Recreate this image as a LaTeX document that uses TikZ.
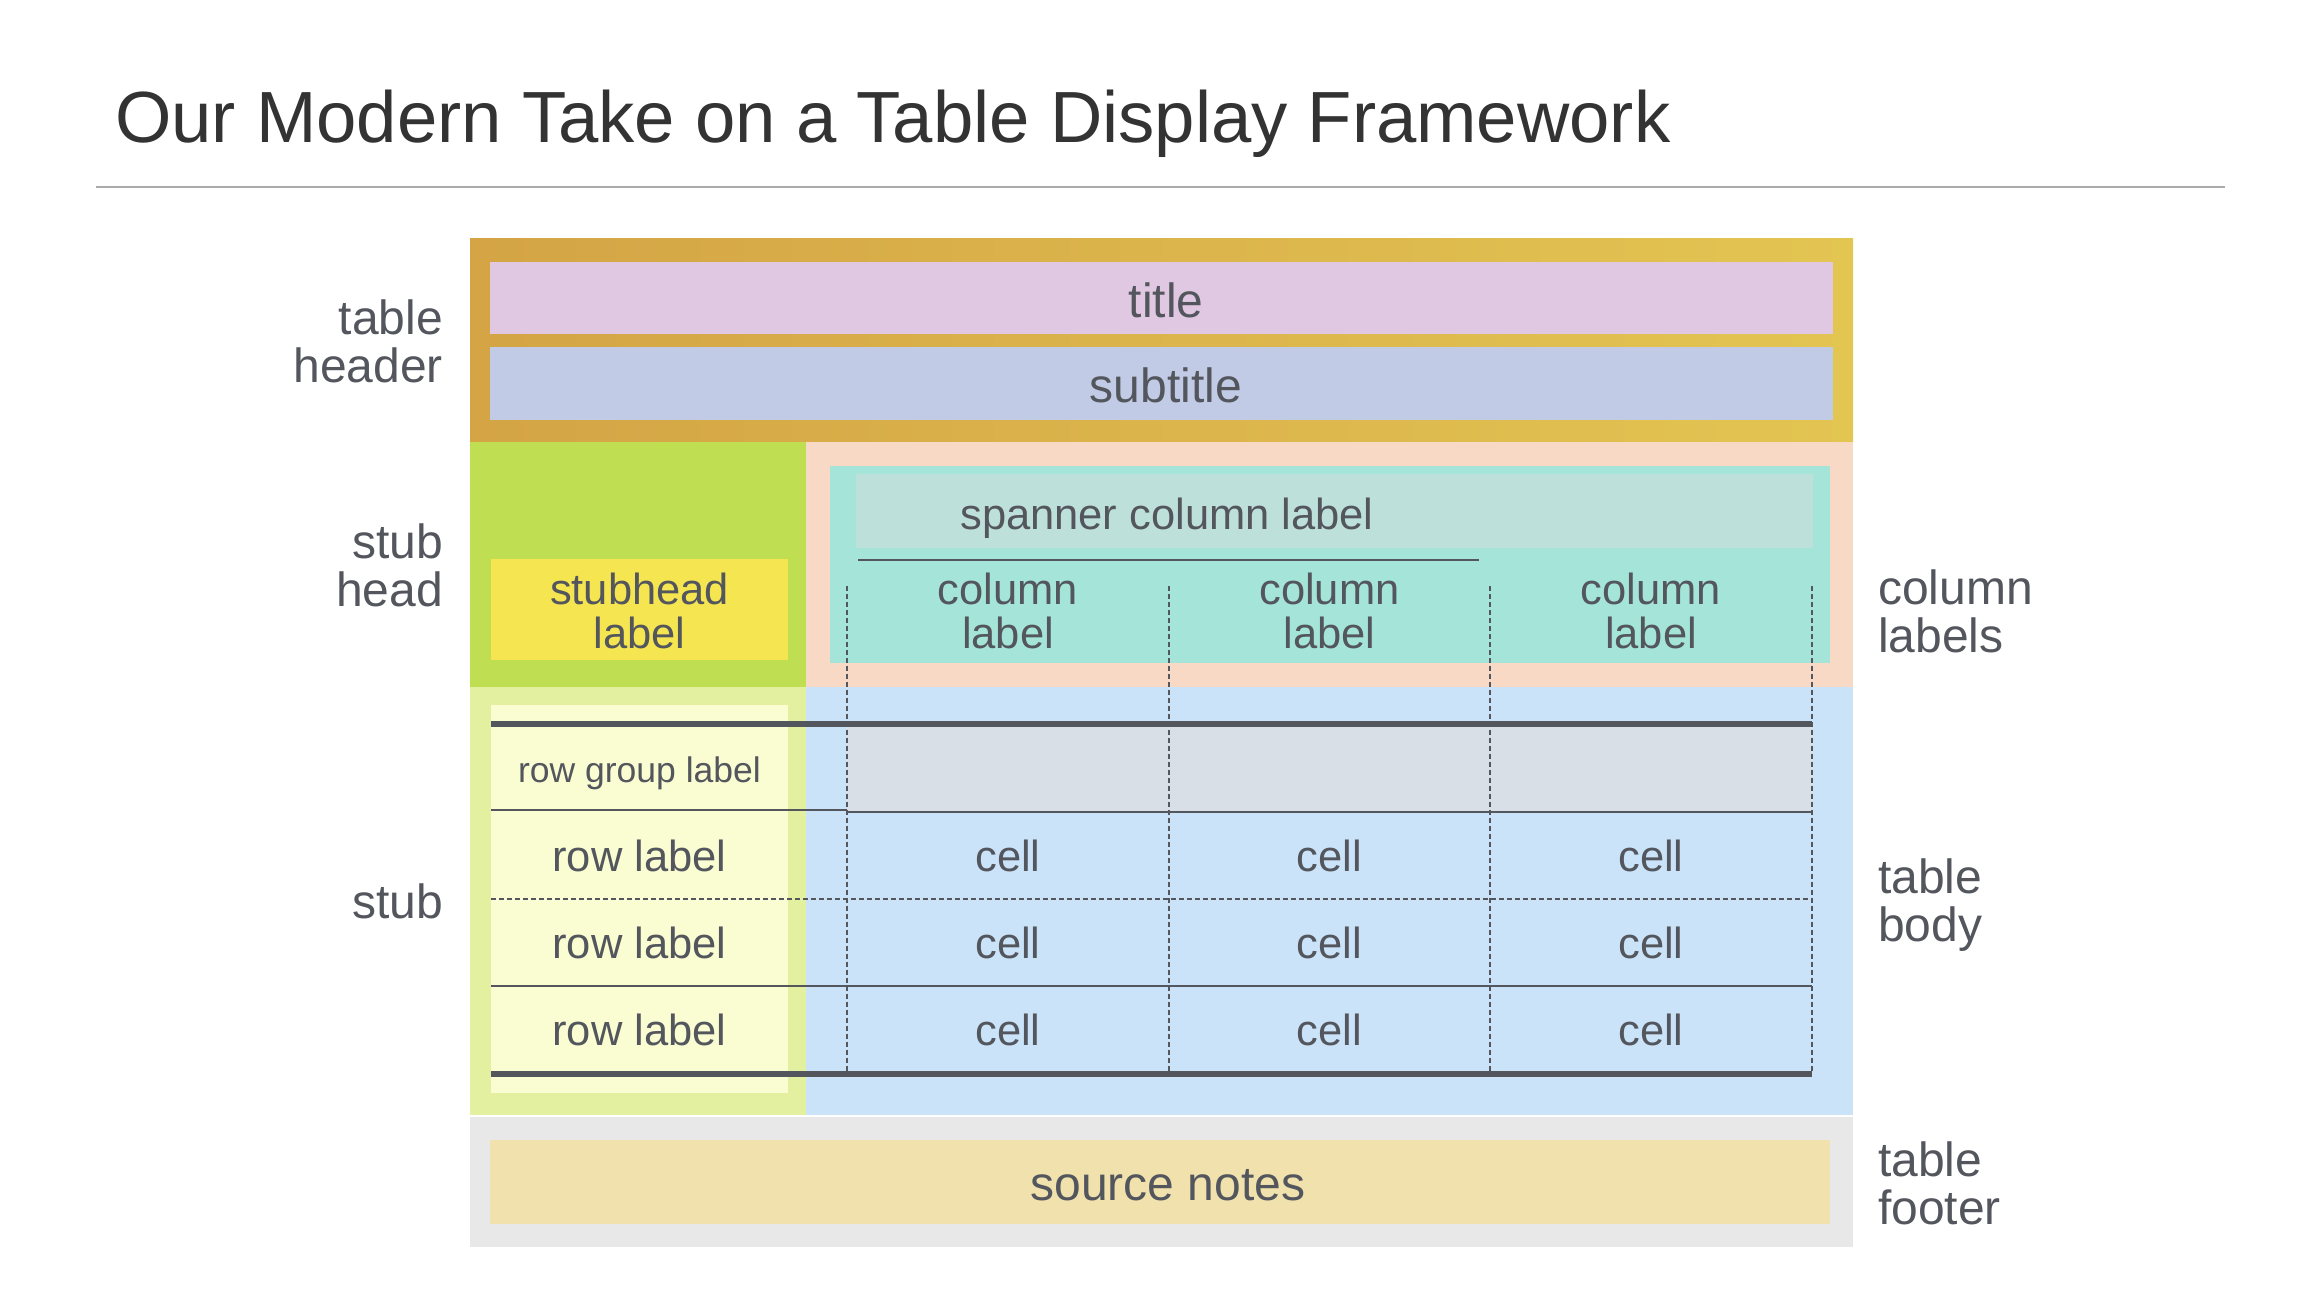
\documentclass[tikz,border=0pt]{standalone}
\usepackage{fontspec}
\setmainfont{Liberation Sans}
\definecolor{goldL}{HTML}{D4A445}
\definecolor{goldR}{HTML}{E3C552}
\definecolor{titlebg}{HTML}{E0C8E2}
\definecolor{subbg}{HTML}{C1CBE6}
\definecolor{stubheadbg}{HTML}{BFDE52}
\definecolor{stubheadlbl}{HTML}{F5E651}
\definecolor{peach}{HTML}{F8D9C6}
\definecolor{tealbg}{HTML}{A4E4D9}
\definecolor{spanbg}{HTML}{BEE0DB}
\definecolor{stubbg}{HTML}{E2F0A0}
\definecolor{stubinner}{HTML}{FAFDD1}
\definecolor{bodybg}{HTML}{CAE3F9}
\definecolor{rowgroupbg}{HTML}{D8DFE6}
\definecolor{footbg}{HTML}{E8E8E8}
\definecolor{srcbg}{HTML}{F0E1AD}
\definecolor{txt}{HTML}{53565D}
\definecolor{titletxt}{HTML}{333333}
\definecolor{rulec}{HTML}{AAAAAA}
\definecolor{linec}{HTML}{54565E}
\newcommand\mystack[2]{\begin{tabular}[t]{@{}#1@{}}#2\end{tabular}}
\begin{document}
\begin{tikzpicture}[x=1pt,y=-1pt,
  lbl/.style={inner sep=0, text=txt},
  big/.style={lbl, font=\fontsize{48}{47}\selectfont},
  mid/.style={lbl, font=\fontsize{43.5}{42}\selectfont},
  small/.style={lbl, font=\fontsize{35.5}{36}\selectfont},
  thick rule/.style={draw=linec, line width=6pt},
  thin rule/.style={draw=linec, line width=2pt},
  dash rule/.style={draw=linec, line width=1.7pt, dash pattern=on 5pt off 3pt},
]
\useasboundingbox (0,0) rectangle (2320,1300);
\fill[white] (0,0) rectangle (2320,1300);

% main title
\node[anchor=base west, inner sep=0, text=titletxt, font=\fontsize{72.5}{80}\selectfont] (maintitle) at (115,143) {Our Modern Take on a Table Display Framework};
\draw[rulec, line width=2pt] (96,187) -- (2225,187);

% table header
\shade[left color=goldL, right color=goldR] (470,238) rectangle (1853,442);
\fill[titlebg] (490,262) rectangle (1833,334);
\fill[subbg] (490,347) rectangle (1833,420);

% stub head
\fill[stubheadbg] (470,442) rectangle (806,687);
\fill[stubheadlbl] (491,559) rectangle (788,660);

% column labels
\fill[peach] (806,442) rectangle (1853,687);
\fill[tealbg] (830,466) rectangle (1830,663);
\fill[spanbg] (856,474) rectangle (1813,548);

% stub
\fill[stubbg] (470,687) rectangle (806,1115);
\fill[stubinner] (491,705) rectangle (788,1093);

% body
\fill[bodybg] (806,687) rectangle (1853,1115);
\fill[rowgroupbg] (847,724) rectangle (1812,812);

% footer
\fill[footbg] (470,1117) rectangle (1853,1247);
\fill[srcbg] (490,1140) rectangle (1830,1224);

% lines
\draw[thin rule] (858,560) -- (1479,560);
\foreach \x in {847,1169,1490,1812} \draw[dash rule] (\x,586) -- (\x,1072);
\draw[thin rule] (491,810) -- (847,810);
\draw[thin rule] (847,812) -- (1812,812);
\draw[dash rule] (491,899) -- (1812,899);
\draw[thin rule] (491,986) -- (1812,986);
\draw[thick rule] (491,724) -- (1812,724);
\draw[thick rule] (491,1074) -- (1812,1074);

% texts inside
\node[big, anchor=base] (title) at (1166,317) {title};
\node[big, anchor=base] (subtitle) at (1166,402) {subtitle};
\node[mid, anchor=base] (stubhead) at (639.5,604) {\mystack{c}{stubhead\\label}};
\node[mid, anchor=base] (spanner) at (1167,529) {spanner column label};
\node[mid, anchor=base] (col1) at (1008,604) {\mystack{c}{column\\label}};
\node[mid, anchor=base] (col2) at (1329.5,604) {\mystack{c}{column\\label}};
\node[mid, anchor=base] (col3) at (1651,604) {\mystack{c}{column\\label}};
\node[small, anchor=base] (rowgroup) at (639.5,782) {row group label};
\node[mid, anchor=base] (row1) at (639.5,871) {row label};
\node[mid, anchor=base] (row2) at (639.5,958) {row label};
\node[mid, anchor=base] (row3) at (639.5,1045) {row label};
\node[mid, anchor=base] (c11) at (1008,871) {cell};
\node[mid, anchor=base] (c12) at (1329.5,871) {cell};
\node[mid, anchor=base] (c13) at (1651,871) {cell};
\node[mid, anchor=base] (c21) at (1008,958) {cell};
\node[mid, anchor=base] (c22) at (1329.5,958) {cell};
\node[mid, anchor=base] (c23) at (1651,958) {cell};
\node[mid, anchor=base] (c31) at (1008,1045) {cell};
\node[mid, anchor=base] (c32) at (1329.5,1045) {cell};
\node[mid, anchor=base] (c33) at (1651,1045) {cell};
\node[big, anchor=base] (source) at (1168,1200) {source notes};

% side labels
\node[big, anchor=base east] (lheader) at (443,334) {\mystack{r}{table\\header}};
\node[big, anchor=base east] (lstubhead) at (443,558) {\mystack{r}{stub\\head}};
\node[big, anchor=base east] (lstub) at (443,918) {stub};
\node[big, anchor=base west] (rcol) at (1878,604) {\mystack{l}{column\\labels}};
\node[big, anchor=base west] (rbody) at (1878,893) {\mystack{l}{table\\body}};
\node[big, anchor=base west] (rfoot) at (1878,1176) {\mystack{l}{table\\footer}};
\end{tikzpicture}
\end{document}
